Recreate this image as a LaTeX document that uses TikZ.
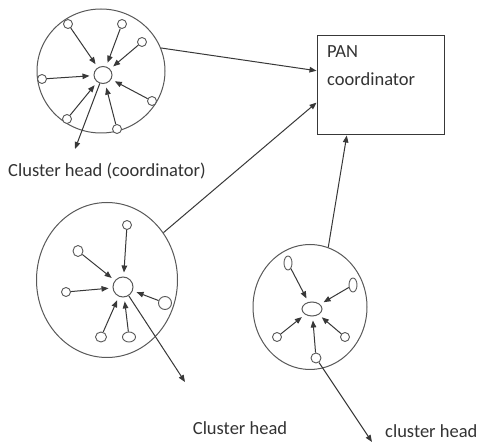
\documentclass[tikz,border=0pt]{standalone}
\usepackage{fontspec}
\setmainfont{Carlito}
\usepackage{tikz}
\usetikzlibrary{
    arrows.meta,
    shapes.geometric
}
\definecolor{linegray}{rgb}{0.22,0.22,0.22}
\definecolor{rimgray}{rgb}{0.35,0.35,0.35}
\definecolor{textgray}{rgb}{0.2,0.2,0.2}
\tikzstyle{cluster} = [
    ellipse,
    draw=rimgray,
    line width=1pt,
    inner sep=0pt
]
\tikzstyle{head} = [
    ellipse,
    draw=rimgray,
    line width=1pt,
    fill=white,
    inner sep=0pt,
    minimum width=18pt,
    minimum height=17pt
]
\tikzstyle{member} = [
    ellipse,
    draw=rimgray,
    line width=0.9pt,
    fill=white,
    inner sep=0pt,
    minimum width=9pt,
    minimum height=9pt
]
\tikzstyle{pan} = [
    rectangle,
    draw=linegray,
    line width=1pt,
    minimum width=127pt,
    minimum height=99pt
]
\tikzstyle{link} = [
    -{Triangle[length=7pt,width=5.5pt]},
    line width=1pt,
    draw=linegray,
    shorten >=4pt
]
\tikzstyle{uplink} = [
    -{Triangle[length=7pt,width=5.5pt]},
    line width=1pt,
    draw=linegray
]
\tikzstyle{headtext} = [
    font=\fontsize{18.5}{28}\selectfont,
    text=textgray,
    inner sep=0pt
]

\begin{document}
\begin{tikzpicture}[x=1pt, y=-1pt]
        \useasboundingbox[fill=white] (0,0) rectangle (477,446);

        % PAN coordinator
        \node[pan] (pan) at (380.5,85.5) {};
        \node[headtext, anchor=north west, align=left] (pantext) at (327,45) {PAN\\coordinator};

        % Cluster 1 (top left)
        \node[cluster, minimum width=128pt, minimum height=124pt] (c1) at (101,71) {};
        \node[head] (h1) at (103,75) {};
        \node[member] (a1) at (68,24) {};
        \node[member] (a2) at (122,24) {};
        \node[member] (a3) at (142,42) {};
        \node[member] (a4) at (42,79) {};
        \node[member] (a5) at (152,101) {};
        \node[member] (a6) at (67,119) {};
        \node[member] (a7) at (117,129) {};
        \foreach \m in {a1,a2,a3,a4,a5,a6,a7}
            \draw[link] (\m) -- (h1);
        \coordinate (o1) at (75,149);
        \draw[uplink] (h1) -- (o1);
        \node[headtext, anchor=west] (t1) at (8,171) {Cluster head (coordinator)};

        % Cluster 2 (bottom left)
        \node[cluster, minimum width=141pt, minimum height=155pt] (c2) at (107,280) {};
        \node[head, minimum width=20pt, minimum height=20pt] (h2) at (123,287) {};
        \node[member] (b1) at (127,225) {};
        \node[member, minimum width=10pt, minimum height=11pt] (b2) at (78,251) {};
        \node[member] (b3) at (66,292) {};
        \node[member, minimum width=13pt, minimum height=13pt] (b4) at (165,303) {};
        \node[member, minimum width=11pt, minimum height=10pt] (b5) at (101,337) {};
        \node[member, minimum width=13pt, minimum height=10pt] (b6) at (129,337) {};
        \foreach \m in {b1,b2,b3,b4,b5,b6}
            \draw[link] (\m) -- (h2);
        \coordinate (o2) at (185,382);
        \draw[uplink] (h2) -- (o2);
        \node[headtext] (t2) at (240,428) {Cluster head};

        % Cluster 3 (bottom right)
        \node[cluster, minimum width=114pt, minimum height=125pt] (c3) at (310,307) {};
        \node[head, minimum width=20pt, minimum height=14pt] (h3) at (312,309) {};
        \node[member, minimum width=8pt, minimum height=14pt] (d1) at (288,263) {};
        \node[member, minimum width=8pt, minimum height=14pt] (d2) at (353,285) {};
        \node[member] (d3) at (277,337) {};
        \node[member] (d4) at (345,337) {};
        \node[member, minimum width=10pt, minimum height=10pt] (d5) at (316,358) {};
        \foreach \m in {d1,d2,d3,d4,d5}
            \draw[link] (\m) -- (h3);
        \coordinate (o3) at (372,442);
        \draw[uplink] (d5) -- (o3);
        \node[headtext, anchor=west] (t3) at (385,431) {cluster head};

        % Links to the PAN coordinator
        \draw[uplink] (c1.21) -- (pan.167);
        \draw[uplink] (c2.40) -- (pan.195);
        \draw[uplink] (c3.73) -- (pan.236);
    \end{tikzpicture}
\end{document}
